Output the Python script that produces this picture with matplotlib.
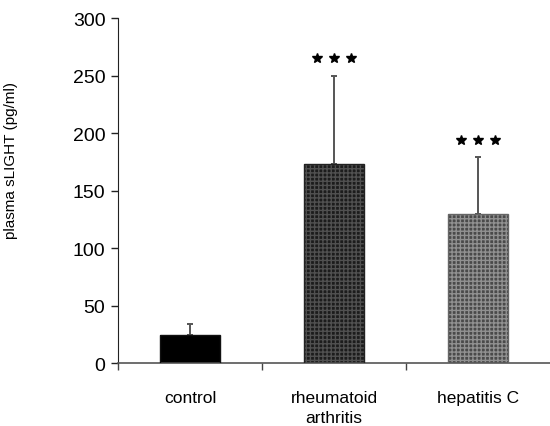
import matplotlib
matplotlib.use("Agg")
import matplotlib.pyplot as plt

plt.rcParams['font.family'] = ['Liberation Sans', 'DejaVu Sans']

groups = ['control', 'rheumatoid\narthritis', 'hepatitis C']
means = [25, 173, 130]
sd_upper = [9, 77, 49]
signif = ['', '***', '***']

fills = ['#000000', '#1c1c1c', '#4a4a4a']
hatch_cols = ['#000000', '#505050', '#909090']
hatches = [None, '++++', '++++']
outline = ['#111111', '#222222', '#666666']

fig = plt.figure(figsize=(5.5, 4.27), dpi=100)
ax = fig.add_axes([0.2145, 0.1464, 0.7855, 0.8091])

x = range(len(groups))
w = 0.41
for i in x:
    # fill + pattern, then a plain outline on top
    ax.bar(i, means[i], width=w, color=fills[i], edgecolor=hatch_cols[i],
           hatch=hatches[i], linewidth=0, zorder=2)
    ax.bar(i, means[i], width=w, fill=False, edgecolor=outline[i],
           linewidth=1.0, zorder=3)

ax.errorbar(list(x), means, yerr=[[0] * 3, sd_upper], fmt='none',
            ecolor='#555555', elinewidth=1.4, capsize=2.5, capthick=1.4,
            zorder=1)

for i in x:
    if signif[i]:
        ytop = means[i] + sd_upper[i] + 15
        n = len(signif[i])
        xs = [i + (k - (n - 1) / 2) * 0.115 for k in range(n)]
        ax.plot(xs, [ytop] * n, linestyle='none', marker='*', color='black',
                markersize=7, zorder=4)

ax.set_xlim(-0.5, 2.5)
ax.set_ylim(0, 300)
ax.set_yticks(range(0, 301, 50))
ax.tick_params(axis='y', labelsize=14, length=5, width=1, direction='out',
               color='#222222', pad=4)

ax.set_xticks([-0.5, 0.5, 1.5], minor=False)
ax.set_xticklabels([])
ax.set_xticks(list(x), minor=True)
ax.set_xticklabels(groups, minor=True, fontsize=12.5, linespacing=1.45)
ax.tick_params(axis='x', which='major', length=5, width=1, color='#444444')
ax.tick_params(axis='x', which='minor', length=0, pad=19)

ax.spines['top'].set_visible(False)
ax.spines['right'].set_visible(False)
ax.spines['left'].set_color('#222222')
ax.spines['bottom'].set_color('#555555')
ax.spines['bottom'].set_linewidth(1.2)

ax.set_ylabel('plasma sLIGHT (pg/ml)', fontsize=11)
ax.yaxis.set_label_coords(-0.231, 0.59)

fig.savefig('out.png', dpi=100)
